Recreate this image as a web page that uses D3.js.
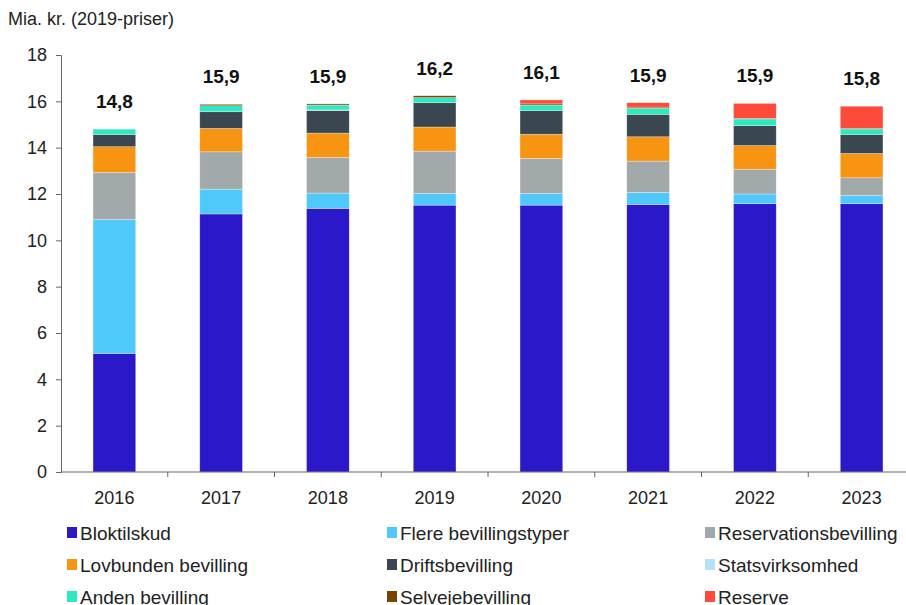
<!DOCTYPE html>
<html>
<head>
<meta charset="utf-8">
<script src="https://cdn.jsdelivr.net/npm/d3@7"></script>
<style>
  body { margin: 0; background: #fff; }
  text { font-family: "Liberation Sans", Arial, sans-serif; fill: #222; }
</style>
</head>
<body>
<svg id="chart" width="906" height="605"></svg>
<script>
// Data
let years = ['2016', '2017', '2018', '2019', '2020', '2021', '2022', '2023'];
let bloktilskud = [5.12, 11.14, 11.38, 11.52, 11.52, 11.55, 11.58, 11.58];
let flere = [5.78, 1.07, 0.66, 0.50, 0.50, 0.52, 0.42, 0.36];
let reservation = [2.03, 1.61, 1.54, 1.83, 1.52, 1.35, 1.07, 0.76];
let lovbunden = [1.11, 1.01, 1.05, 1.04, 1.04, 1.05, 1.02, 1.05];
let drift = [0.53, 0.72, 0.98, 1.05, 1.02, 0.97, 0.86, 0.82];
let statsvirksomhed = [0, 0, 0.02, 0, 0, 0, 0, 0];
let anden = [0.23, 0.26, 0.21, 0.22, 0.24, 0.26, 0.29, 0.24];
let selveje = [0, 0.06, 0.05, 0.08, 0.05, 0.05, 0.02, 0.01];
let reserve = [0, 0, 0, 0, 0.17, 0.19, 0.65, 0.97];
let totalLabels = ['14,8', '15,9', '15,9', '16,2', '16,1', '15,9', '15,9', '15,8'];
let yTicks = [0, 2, 4, 6, 8, 10, 12, 14, 16, 18];

let seriesNames = ['Bloktilskud', 'Flere bevillingstyper', 'Reservationsbevilling',
  'Lovbunden bevilling', 'Driftsbevilling', 'Statsvirksomhed',
  'Anden bevilling', 'Selvejebevilling', 'Reserve'];
let seriesValues = [bloktilskud, flere, reservation, lovbunden, drift,
  statsvirksomhed, anden, selveje, reserve];
let colors = ['#2b19c9', '#50c8fa', '#a2a9ab', '#f79412', '#3a4751',
  '#b5e0f7', '#2de8c0', '#7a4400', '#fe4a3a'];

let svg = d3.select('#chart');

// Build table for stacking
let table = years.map((year, i) => {
  let row = { year: year };
  seriesNames.forEach((name, s) => { row[name] = seriesValues[s][i]; });
  return row;
});
let stacked = d3.stack().keys(seriesNames)(table);

// Scales
let x = d3.scaleBand().domain(years).range([61, 915]).paddingInner(0.6).paddingOuter(0.3);
let y = d3.scaleLinear().domain([0, 18]).range([472, 55]);

// Title
svg.append('text')
  .attr('x', 8).attr('y', 25)
  .style('font-size', '18px')
  .text('Mia. kr. (2019-priser)');

// Bars
svg.append('g').selectAll('g')
  .data(stacked)
  .enter()
  .append('g')
  .attr('fill', (d, i) => colors[i])
  .selectAll('rect')
  .data((d) => d)
  .enter()
  .append('rect')
  .attr('x', (d) => x(d.data.year))
  .attr('width', x.bandwidth())
  .attr('y', (d) => y(d[1]))
  .attr('height', (d) => y(d[0]) - y(d[1]))
  .attr('stroke', '#fff')
  .attr('stroke-opacity', 0.5)
  .attr('stroke-width', 0.6);

// Total labels
svg.append('g').selectAll('text')
  .data(years)
  .enter()
  .append('text')
  .attr('x', (d) => x(d) + x.bandwidth() / 2)
  .attr('y', (d, i) => {
    let total = d3.sum(seriesValues, (s) => s[i]);
    return y(total) - 21;
  })
  .attr('text-anchor', 'middle')
  .style('font-size', '19px')
  .style('font-weight', 'bold')
  .style('fill', '#111')
  .text((d, i) => totalLabels[i]);

// Y axis
let yAxis = svg.append('g')
  .attr('transform', 'translate(61,0)')
  .call(d3.axisLeft(y).tickValues(yTicks).tickSize(5).tickPadding(9));
yAxis.selectAll('text').style('font-size', '18px');
yAxis.selectAll('line, path').attr('stroke', '#666');

// X axis
let xAxisG = svg.append('g').attr('transform', 'translate(0,472)');
xAxisG.append('line')
  .attr('x1', 61).attr('x2', 906)
  .attr('stroke', '#666');
xAxisG.selectAll('line.tick')
  .data(years.slice(1))
  .enter()
  .append('line')
  .attr('class', 'tick')
  .attr('x1', (d) => x(d) - x.step() * x.paddingInner() / 2)
  .attr('x2', (d) => x(d) - x.step() * x.paddingInner() / 2)
  .attr('y1', 0).attr('y2', 5)
  .attr('stroke', '#666');
xAxisG.selectAll('text')
  .data(years)
  .enter()
  .append('text')
  .attr('x', (d) => x(d) + x.bandwidth() / 2)
  .attr('y', 32)
  .attr('text-anchor', 'middle')
  .style('font-size', '18px')
  .text((d) => d);

// Legend
let legendCols = [67, 387, 705];
let legendRows = [533, 565, 597];
let legend = svg.append('g').selectAll('g')
  .data(seriesNames)
  .enter()
  .append('g')
  .attr('transform', (d, i) => 'translate(' + legendCols[i % 3] + ',' + legendRows[Math.floor(i / 3)] + ')');
legend.append('rect')
  .attr('x', 0).attr('y', -6)
  .attr('width', 10).attr('height', 11)
  .attr('fill', (d, i) => colors[i]);
legend.append('text')
  .attr('x', 13).attr('y', 7)
  .style('font-size', '19px')
  .text((d) => d);
</script>
</body>
</html>
